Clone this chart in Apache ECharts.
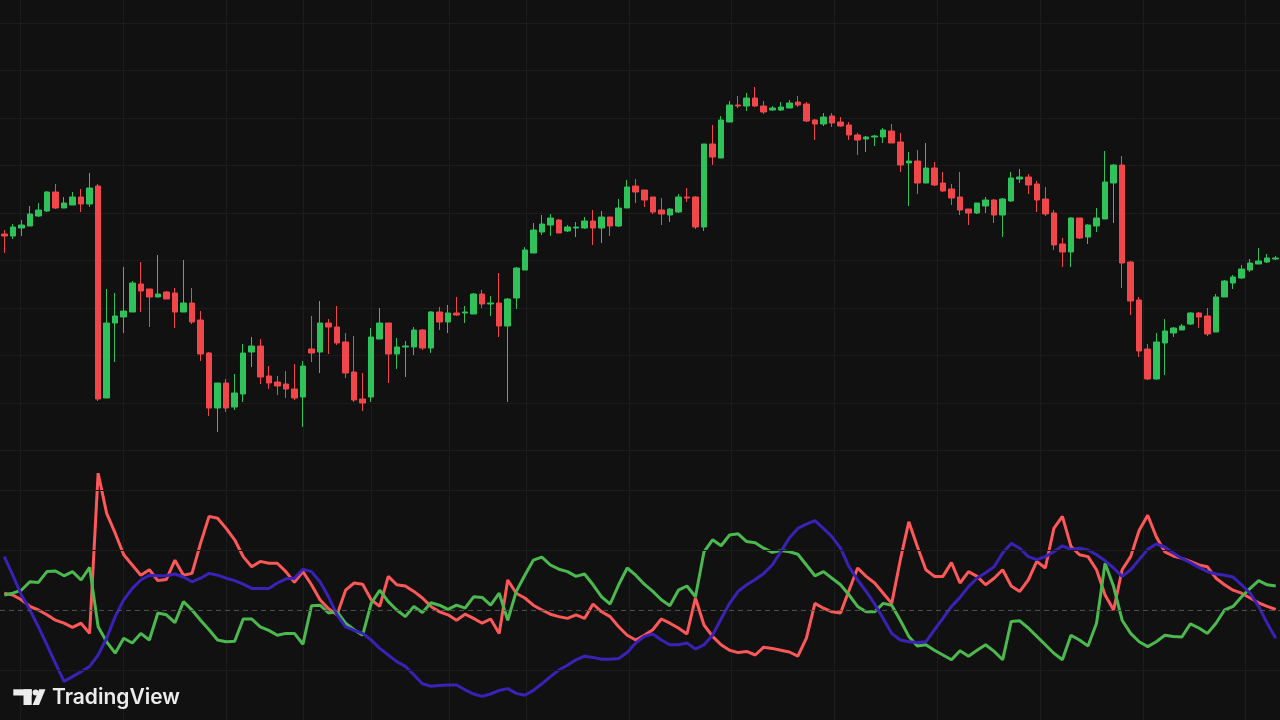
<!DOCTYPE html>
<html><head><meta charset="utf-8">
<script src="https://cdn.jsdelivr.net/npm/echarts@6/dist/echarts.min.js"></script>
<style>html,body{margin:0;padding:0;background:#111111;}#c{width:1280px;height:720px;}</style>
</head><body><div id="c"></div>
<script>
// Price candles (arbitrary price units)
const open = [264,262,270,272,282,287,306,290,293,301,294,312,100,175,181,186,214,209,201,206,205,186,195,178,145,90,115,91,104,146,152,122,116,114,109,101,149,146,175,171,156,126,99,101,159,175,144,151,151,168,150,186,176,185,185,184,204,194,195,172,200,228,245,266,273,278,267,270,270,277,270,281,272,290,312,308,301,288,283,286,301,301,271,354,340,376,393,392,400,392,388,388,390,396,394,378,374,382,376,373,363,359,361,361,367,356,335,337,315,330,315,309,301,289,285,292,298,283,297,319,321,314,299,285,254,246,280,261,272,279,315,333,236,198,149,119,155,165,168,174,185,182,166,201,215,220,228,234,236,239];
const close = [262,271,273,284,288,306,290,295,301,294,310,99,175,182,187,215,207,201,204,199,186,195,176,144,90,115,90,105,145,152,121,115,112,109,100,132,145,175,171,155,125,98,95,161,175,144,151,152,168,150,186,176,185,183,186,204,194,195,172,199,230,248,268,274,280,265,271,271,277,270,281,272,290,311,306,298,286,284,289,301,300,271,354,341,378,393,392,400,392,386,390,391,395,393,377,374,381,375,372,363,358,361,362,368,355,333,337,315,330,313,307,300,288,285,295,298,283,299,320,321,313,298,284,253,246,280,260,273,280,316,333,235,197,147,119,156,167,170,172,185,181,164,201,217,221,229,235,237,240,240];
const low = [245,259,262,272,281,286,289,290,293,286,291,97,100,136,165,186,186,171,201,199,170,186,174,137,82,66,86,88,96,131,114,109,103,100,98,71,136,125,144,153,120,96,87,96,159,115,129,121,143,148,145,168,165,182,175,184,190,182,161,96,189,228,245,263,262,265,266,261,269,253,255,262,271,290,295,291,284,273,276,285,296,269,267,333,340,376,390,387,391,384,387,387,390,391,376,358,372,371,371,358,343,346,352,355,355,326,292,304,315,312,306,293,283,273,284,285,275,261,296,315,304,286,282,248,231,231,259,254,266,279,275,210,183,141,118,118,123,161,168,173,170,162,166,201,209,219,226,234,235,238];
const high = [268,274,278,292,295,307,314,301,306,309,325,314,209,205,231,217,236,209,243,207,210,238,210,187,146,115,119,124,154,161,159,132,122,127,134,137,182,197,179,192,165,162,125,170,190,175,160,157,171,169,187,191,193,201,192,205,208,202,225,200,231,251,275,283,284,279,273,276,281,288,287,281,299,318,319,308,301,300,290,304,310,302,354,373,382,397,402,405,411,397,392,396,398,402,396,379,385,385,381,376,365,362,363,370,374,365,346,348,355,336,326,314,326,289,295,301,299,300,326,329,324,317,311,288,260,281,280,274,290,347,334,342,237,201,154,165,179,171,174,186,186,190,204,218,223,233,239,250,244,242];

// Directional movement indicator
const diMinus = [22.8,22.5,21.7,20.6,20.0,19.2,18.3,17.8,17.1,17.8,16.1,42.8,36.1,32.8,29.2,27.5,25.8,26.7,24.9,25.1,28.3,25.8,26.1,31.1,35.6,35.3,33.6,31.7,28.9,27.2,28.1,27.8,27.8,26.4,24.6,26.4,24.2,21.7,20.2,19.2,23.3,24.5,24.3,21.7,20.6,25.6,24.2,24.0,23.1,22.0,20.6,19.7,19.2,18.3,19.3,18.6,17.8,18.5,16.1,25.0,22.8,22.0,20.8,20.0,19.3,18.9,18.6,19.2,18.6,21.0,19.7,18.9,17.2,15.8,15.0,15.8,16.7,18.5,17.8,17.0,16.0,22.0,17.5,15.6,14.2,13.3,12.9,13.1,12.5,13.8,13.6,13.3,13.0,12.3,15.3,21.1,20.3,19.7,19.5,23.3,27.0,25.6,24.5,22.8,21.1,28.3,34.7,30.6,26.7,25.6,25.6,27.9,24.5,26.4,25.6,24.2,25.3,26.7,24.0,23.1,25.0,28.1,27.0,33.6,35.6,30.6,29.2,28.9,26.7,22.5,20.0,26.7,28.9,33.3,35.8,32.2,29.7,29.0,28.6,28.1,27.5,27.2,25.3,24.2,23.3,22.8,22.0,21.2,20.6,20.1];
const diPlus = [22.5,22.8,23.3,24.7,24.6,26.4,26.5,25.7,26.4,25.0,27.1,17.2,14.7,12.8,15.3,14.5,16.1,15.0,19.5,19.2,17.9,21.4,20.0,18.3,16.7,15.0,14.7,14.8,18.5,18.5,17.2,16.6,15.8,16.1,16.1,14.3,20.7,20.8,19.5,19.7,17.8,16.7,15.8,21.1,23.3,21.4,20.0,18.9,20.6,19.6,21.2,20.8,20.1,20.8,20.3,22.2,22.1,20.8,22.8,18.3,23.1,25.8,28.3,28.8,27.5,26.8,26.4,25.6,26.0,24.2,22.2,21.0,24.2,27.0,25.8,24.3,23.1,21.7,20.7,23.3,24.0,22.2,29.7,31.7,30.7,32.5,32.7,31.4,31.2,30.3,29.6,29.9,29.7,29.3,27.5,25.7,26.4,25.3,24.2,22.5,20.6,19.7,19.7,21.1,20.8,18.3,15.6,14.0,14.2,13.3,12.5,11.7,13.2,12.3,13.3,14.2,13.1,11.7,18.1,18.2,17.0,15.6,14.2,12.8,11.7,15.8,15.0,14.0,17.8,27.8,23.9,18.3,16.1,14.7,13.9,14.7,15.8,15.6,15.5,17.7,17.0,16.1,17.8,20.0,20.6,22.2,23.6,24.9,24.2,24.0];
const adx = [28.9,25.8,22.5,20.0,17.2,14.2,11.1,8.1,8.9,9.7,10.6,12.5,15.3,18.9,21.7,23.6,25.0,25.8,25.7,25.7,26.0,25.5,24.7,25.3,26.1,25.8,25.3,24.9,24.3,23.6,23.6,23.6,24.5,25.2,25.3,26.8,26.4,24.7,22.2,19.2,17.2,16.6,16.1,15.0,13.6,12.5,11.4,10.6,9.2,7.7,7.3,7.4,7.5,7.5,6.7,6.0,5.6,6.0,6.6,6.9,6.1,5.8,6.6,7.7,8.9,10.0,10.8,11.7,12.3,12.1,11.8,11.8,11.9,12.9,14.5,15.6,16.0,15.0,14.2,14.2,14.5,13.5,14.2,15.8,18.5,21.1,23.1,24.2,25.1,26.1,27.5,29.7,32.0,33.6,34.3,34.9,33.6,32.2,30.3,27.2,25.0,23.1,21.0,18.6,16.1,15.0,14.7,14.6,14.7,16.7,18.6,20.6,22.1,23.9,25.3,26.2,27.2,29.5,31.1,30.3,28.9,28.4,28.9,29.7,30.7,30.1,30.3,30.0,29.2,28.2,27.0,25.6,26.7,28.4,30.1,31.0,30.5,29.5,28.6,27.9,27.1,26.4,26.0,25.8,25.5,24.2,22.8,20.6,17.8,15.3];

// Time-axis gridline positions (bar indices) and indicator levels
const timeGridBars = [2,14,26,35,43,52,61,73,85,97,109,121,133,145];
const indicatorLevels = [40,30,10];
const indicatorDashLevel = 20;

const bars = open.map((_, i) => 'Bar ' + (i + 1));
const ohlc = open.map((o, i) => [o, close[i], low[i], high[i]]);

const BG = '#111111', GRID = '#1c1c1c';
const UP = '#2fc15a', DOWN = '#f2474a';
const RED = '#ff5858', GREEN = '#4cb94f', BLUE = '#3a22b8';
const WM = '#ececec';

const chart = echarts.init(document.getElementById('c'));
const hiddenAxis = {axisLine:{show:false}, axisTick:{show:false}, axisLabel:{show:false}};
chart.setOption({
  backgroundColor: BG,
  animation: false,
  grid: [
    {left: -1, width: 1285.5, top: 23, height: 427.5},
    {left: -1, width: 1285.5, top: 490, height: 180},
    {left: 3.3, width: 1276.9, top: 0, height: 720}
  ],
  xAxis: [
    Object.assign({type:'category', gridIndex:0, data:bars, boundaryGap:true, splitLine:{show:false}}, hiddenAxis),
    Object.assign({type:'category', gridIndex:1, data:bars, boundaryGap:true, splitLine:{show:false}}, hiddenAxis),
    Object.assign({type:'category', gridIndex:2, data:bars, boundaryGap:false,
      splitLine:{show:true, interval:(idx) => timeGridBars.indexOf(idx) >= 0, lineStyle:{color:GRID, width:1}}}, hiddenAxis)
  ],
  yAxis: [
    Object.assign({type:'value', gridIndex:0, min:47.5, max:475, interval:47.5, splitLine:{show:true, lineStyle:{color:GRID, width:1}}}, hiddenAxis),
    Object.assign({type:'value', gridIndex:1, min:10, max:40, interval:10, splitLine:{show:false}}, hiddenAxis),
    Object.assign({type:'value', gridIndex:2, min:0, max:1, splitLine:{show:false}}, hiddenAxis)
  ],
  series: [
    {
      type:'candlestick', xAxisIndex:0, yAxisIndex:0, data:ohlc, barWidth:6,
      itemStyle:{color:UP, color0:DOWN, borderColor:UP, borderColor0:DOWN, borderWidth:1}
    },
    {
      type:'line', xAxisIndex:1, yAxisIndex:1, data:[], z:1, silent:true,
      markLine:{silent:true, symbol:['none','none'], label:{show:false}, animation:false,
        data: indicatorLevels.map(v => ({yAxis:v, lineStyle:{color:GRID, type:'solid', width:1}}))
          .concat([{yAxis:indicatorDashLevel, lineStyle:{color:'#4d4d4d', type:[5,4], width:1}}])}
    },
    {type:'line', name:'-DI', xAxisIndex:1, yAxisIndex:1, data:diMinus, symbol:'none', clip:false,
      lineStyle:{color:RED, width:3}, itemStyle:{color:RED}, z:3},
    {type:'line', name:'+DI', xAxisIndex:1, yAxisIndex:1, data:diPlus, symbol:'none', clip:false,
      lineStyle:{color:GREEN, width:3}, itemStyle:{color:GREEN}, z:3},
    {type:'line', name:'ADX', xAxisIndex:1, yAxisIndex:1, data:adx, symbol:'none', clip:false,
      lineStyle:{color:BLUE, width:3}, itemStyle:{color:BLUE}, z:3}
  ],
  graphic: [
    {type:'rect', z:100, shape:{x:13.3, y:689.3, width:18.4, height:6.2}, style:{fill:WM}},
    {type:'rect', z:100, shape:{x:23.5, y:689.3, width:8.2, height:15.7}, style:{fill:WM}},
    {type:'circle', z:100, shape:{cx:35.6, cy:692.4, r:3.0}, style:{fill:WM}},
    {type:'polygon', z:100, shape:{points:[[39.2,689.3],[45.5,689.3],[39.0,705],[32.6,705]]}, style:{fill:WM}},
    {type:'text', z:100, x:52, y:697.5, style:{text:'TradingView', fill:WM, font:'600 21px Inter, "Noto Sans", sans-serif', textVerticalAlign:'middle', textAlign:'left'}}
  ]
});
</script></body></html>
